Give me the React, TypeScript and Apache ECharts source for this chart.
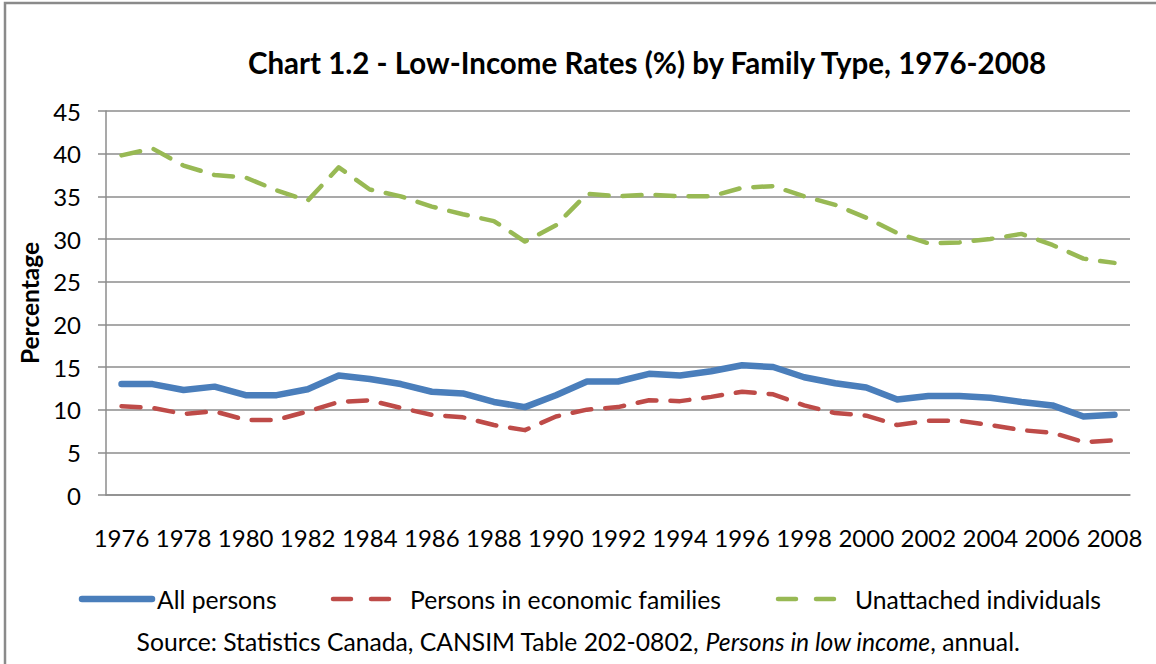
import React, { useEffect, useRef } from "react";
import * as echarts from "echarts";

const years: string[] = [
  "1976","1977","1978","1979","1980","1981","1982","1983","1984","1985","1986",
  "1987","1988","1989","1990","1991","1992","1993","1994","1995","1996","1997",
  "1998","1999","2000","2001","2002","2003","2004","2005","2006","2007","2008",
];

const allPersons: number[] = [
  13.0, 13.0, 12.3, 12.7, 11.7, 11.7, 12.4, 14.0, 13.6, 13.0, 12.1,
  11.9, 10.9, 10.3, 11.7, 13.3, 13.3, 14.2, 14.0, 14.5, 15.2, 15.0,
  13.8, 13.1, 12.6, 11.2, 11.6, 11.6, 11.4, 10.9, 10.5, 9.2, 9.4,
];

const economicFamilies: number[] = [
  10.4, 10.2, 9.5, 9.8, 8.8, 8.8, 9.8, 10.9, 11.1, 10.2, 9.4,
  9.1, 8.2, 7.6, 9.2, 10.0, 10.3, 11.1, 11.0, 11.5, 12.1, 11.8,
  10.5, 9.6, 9.3, 8.2, 8.7, 8.7, 8.2, 7.6, 7.3, 6.2, 6.4,
];

const unattached: number[] = [
  39.8, 40.6, 38.6, 37.5, 37.2, 35.7, 34.5, 38.4, 35.8, 35.0, 33.8,
  32.9, 32.1, 29.7, 31.6, 35.3, 35.0, 35.2, 35.0, 35.0, 36.0, 36.2,
  35.0, 34.0, 32.5, 30.7, 29.5, 29.6, 30.0, 30.6, 29.3, 27.7, 27.2,
];

const seriesNames: string[] = [
  "All persons",
  "Persons in economic families",
  "Unattached individuals",
];

const yTicks: number[] = [0, 5, 10, 15, 20, 25, 30, 35, 40, 45];

const titleText = "Chart 1.2 - Low-Income Rates (%) by Family Type, 1976-2008";
const yAxisTitle = "Percentage";
const sourceText =
  "Source: Statistics Canada, CANSIM Table 202-0802, {i|Persons in low income}, annual.";

const FONT = "Lato, 'Open Sans', sans-serif";
const FS = 24;
const FS_LEG = 24.7;
const BLUE = "#4a7ebb";
const RED = "#be4b48";
const GREEN = "#98b954";
const GRID = "#8c8c8c";

export default function App() {
  const ref = useRef<HTMLDivElement>(null);

  useEffect(() => {
    if (!ref.current) return;
    const chart = echarts.init(ref.current, undefined, { renderer: "svg" });

    const legendY = 599;
    const legendText = (x: number, text: string) => ({
      type: "text",
      x,
      y: legendY,
      style: {
        text,
        fontFamily: FONT,
        fontSize: FS_LEG,
        fill: "#000",
        textVerticalAlign: "middle",
      },
    });

    const option: any = {
      animation: false,
      backgroundColor: "#ffffff",
      textStyle: { fontFamily: FONT },
      grid: { left: 106, right: 26, top: 111, bottom: 169, containLabel: false },
      xAxis: {
        type: "category",
        data: years,
        boundaryGap: true,
        axisLine: { lineStyle: { color: GRID, width: 1.5 } },
        axisTick: { interval: 1, length: 8, lineStyle: { color: GRID, width: 1.5 } },
        axisLabel: {
          interval: 1,
          margin: 30,
          fontFamily: FONT,
          fontSize: FS,
          color: "#000",
        },
        splitLine: { show: false },
      },
      yAxis: {
        type: "value",
        min: yTicks[0],
        max: yTicks[yTicks.length - 1],
        interval: 5,
        name: yAxisTitle,
        nameLocation: "middle",
        nameGap: 62,
        nameTextStyle: {
          fontFamily: FONT,
          fontSize: 24.5,
          fontWeight: "bold",
          color: "#000",
        },
        axisLine: { show: true, lineStyle: { color: GRID, width: 1.5 } },
        axisTick: { show: true, length: 8, lineStyle: { color: GRID, width: 1.5 } },
        axisLabel: {
          margin: 25,
          fontFamily: FONT,
          fontSize: FS,
          color: "#000",
        },
        splitLine: { show: true, lineStyle: { color: GRID, width: 1.5 } },
      },
      series: [
        {
          name: seriesNames[0],
          type: "line",
          data: allPersons,
          symbol: "none",
          lineStyle: { color: BLUE, width: 6.5, cap: "round", join: "round" },
          z: 3,
        },
        {
          name: seriesNames[1],
          type: "line",
          data: economicFamilies,
          symbol: "none",
          lineStyle: { color: RED, width: 4.5, type: [19, 14], cap: "round", join: "round" },
          z: 2,
        },
        {
          name: seriesNames[2],
          type: "line",
          data: unattached,
          symbol: "none",
          lineStyle: { color: GREEN, width: 4.5, type: [19, 14], cap: "round", join: "round" },
          z: 2,
        },
      ],
      graphic: [
        {
          type: "rect",
          shape: { x: 5, y: 3, width: 1200, height: 720 },
          style: { fill: "none", stroke: "#8a8a8a", lineWidth: 2.5 },
          silent: true,
        },
        {
          type: "text",
          x: 647,
          y: 62,
          style: {
            text: titleText,
            fontFamily: FONT,
            fontSize: 29.5,
            fontWeight: "bold",
            fill: "#000",
            textAlign: "center",
            textVerticalAlign: "middle",
          },
        },
        {
          type: "line",
          shape: { x1: 82, y1: legendY, x2: 152, y2: legendY },
          style: { stroke: BLUE, lineWidth: 6.5, lineCap: "round" },
        },
        legendText(157, seriesNames[0]),
        {
          type: "line",
          shape: { x1: 333, y1: legendY, x2: 393, y2: legendY },
          style: { stroke: RED, lineWidth: 4.5, lineDash: [18, 20], lineCap: "round" },
        },
        legendText(410, seriesNames[1]),
        {
          type: "line",
          shape: { x1: 778, y1: legendY, x2: 838, y2: legendY },
          style: { stroke: GREEN, lineWidth: 4.5, lineDash: [18, 20], lineCap: "round" },
        },
        legendText(855, seriesNames[2]),
        {
          type: "text",
          x: 578,
          y: 641,
          style: {
            text: sourceText,
            fontFamily: FONT,
            fontSize: FS_LEG,
            fill: "#000",
            textAlign: "center",
            textVerticalAlign: "middle",
            rich: {
              i: { fontFamily: FONT, fontSize: FS_LEG, fontStyle: "italic", fill: "#000" },
            },
          },
        },
      ],
    };

    chart.setOption(option);
    return () => chart.dispose();
  }, []);

  return (
    <div
      ref={ref}
      style={{ position: "fixed", left: 0, top: 0, width: 1156, height: 664 }}
    />
  );
}
